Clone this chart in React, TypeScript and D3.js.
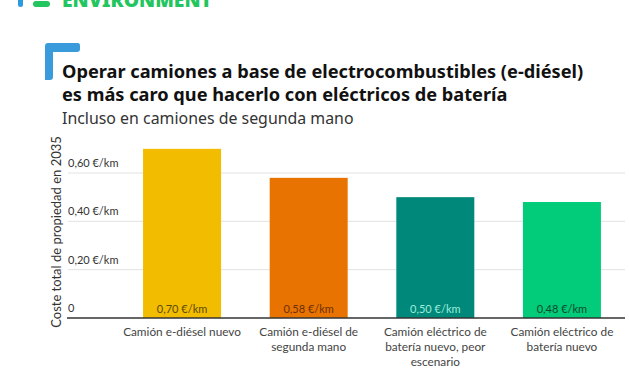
import React from "react";
import * as d3 from "d3";

const categories: string[][] = [
  ["Camión e-diésel nuevo"],
  ["Camión e-diésel de", "segunda mano"],
  ["Camión eléctrico de", "batería nuevo, peor", "escenario"],
  ["Camión eléctrico de", "batería nuevo"],
];
const values = [0.7, 0.58, 0.5, 0.48];
const valueLabels = ["0,70 €/km", "0,58 €/km", "0,50 €/km", "0,48 €/km"];
const barColors = ["#F2BC00", "#E97300", "#00897A", "#02CB7A"];
const labelColors = ["#5C4A00", "#6B3000", "#9FEBDD", "#0B4A2A"];
const tickValues = [0, 0.2, 0.4, 0.6];
const tickLabels = ["0", "0,20 €/km", "0,40 €/km", "0,60 €/km"];

const title1 = "Operar camiones a base de electrocombustibles (e-diésel)";
const title2 = "es más caro que hacerlo con eléctricos de batería";
const subtitle = "Incluso en camiones de segunda mano";
const yTitle = "Coste total de propiedad en 2035";

export default function App() {
  const W = 629;
  const H = 375;
  const y = d3.scaleLinear().domain([0, 0.6]).range([318, 173]);
  const x = d3
    .scaleBand<number>()
    .domain(values.map((_, i) => i))
    .range([119, 625])
    .paddingInner(0.384)
    .paddingOuter(0.19);
  const font = "Lato, 'Noto Sans', sans-serif";
  return (
    <svg
      width={W}
      height={H}
      style={{ position: "absolute", left: 0, top: 0, background: "#fff" }}
    >
      {/* header fragment */}
      <rect x={18} y={-6} width={5} height={13} rx={2.5} fill="#2A9BE0" />
      <rect x={33} y={1} width={17} height={6} rx={3} fill="#22C55E" />
      <text
        x={62}
        y={7}
        fontFamily="'Noto Sans', sans-serif"
        fontWeight={900}
        fontSize={20}
        fill="#22C55E"
        textLength={150}
        lengthAdjust="spacingAndGlyphs"
      >
        ENVIRONMENT
      </text>

      {/* corner mark */}
      <path
        d="M45,80 L45,46 Q45,43 48,43 L78,43 Q80,43 80,46 L80,49 Q80,52 77,52 L53,52 L53,77 Q53,80 50,80 Z"
        fill="#3A9BDC"
      />

      <text x={62} y={78} fontFamily="'Noto Sans', sans-serif" fontWeight={700} fontSize={18.2} fill="#111">
        {title1}
      </text>
      <text x={62} y={101} fontFamily="'Noto Sans', sans-serif" fontWeight={700} fontSize={18.2} fill="#111">
        {title2}
      </text>
      <text x={62} y={124} fontFamily="'Noto Sans', sans-serif" fontSize={15.9} fill="#333">
        {subtitle}
      </text>

      {/* y title */}
      <text
        transform={`translate(61,232) rotate(-90)`}
        textAnchor="middle"
        fontFamily={font}
        fontSize={13}
        fill="#333"
      >
        {yTitle}
      </text>

      {/* grid + ticks */}
      {tickValues.map((t, i) => (
        <g key={i}>
          {t !== 0 && (
            <line x1={68} x2={625} y1={y(t)} y2={y(t)} stroke="#E2E2E2" strokeWidth={1} />
          )}
          <text x={68} y={y(t) - 6} fontFamily={font} fontSize={11} fill="#333">
            {tickLabels[i]}
          </text>
        </g>
      ))}

      {/* bars */}
      {values.map((v, i) => (
        <g key={i}>
          <rect x={x(i)} y={y(v)} width={x.bandwidth()} height={y(0) - y(v)} fill={barColors[i]} />
          <text
            x={(x(i) as number) + x.bandwidth() / 2}
            y={y(0) - 5}
            textAnchor="middle"
            fontFamily={font}
            fontSize={11}
            fill={labelColors[i]}
          >
            {valueLabels[i]}
          </text>
          {categories[i].map((line, j) => (
            <text
              key={j}
              x={(x(i) as number) + x.bandwidth() / 2}
              y={336 + j * 15}
              textAnchor="middle"
              fontFamily={font}
              fontSize={11.8}
              fill="#444"
            >
              {line}
            </text>
          ))}
        </g>
      ))}

      <line x1={67} x2={625} y1={y(0)} y2={y(0)} stroke="#333" strokeWidth={1.5} />
    </svg>
  );
}
